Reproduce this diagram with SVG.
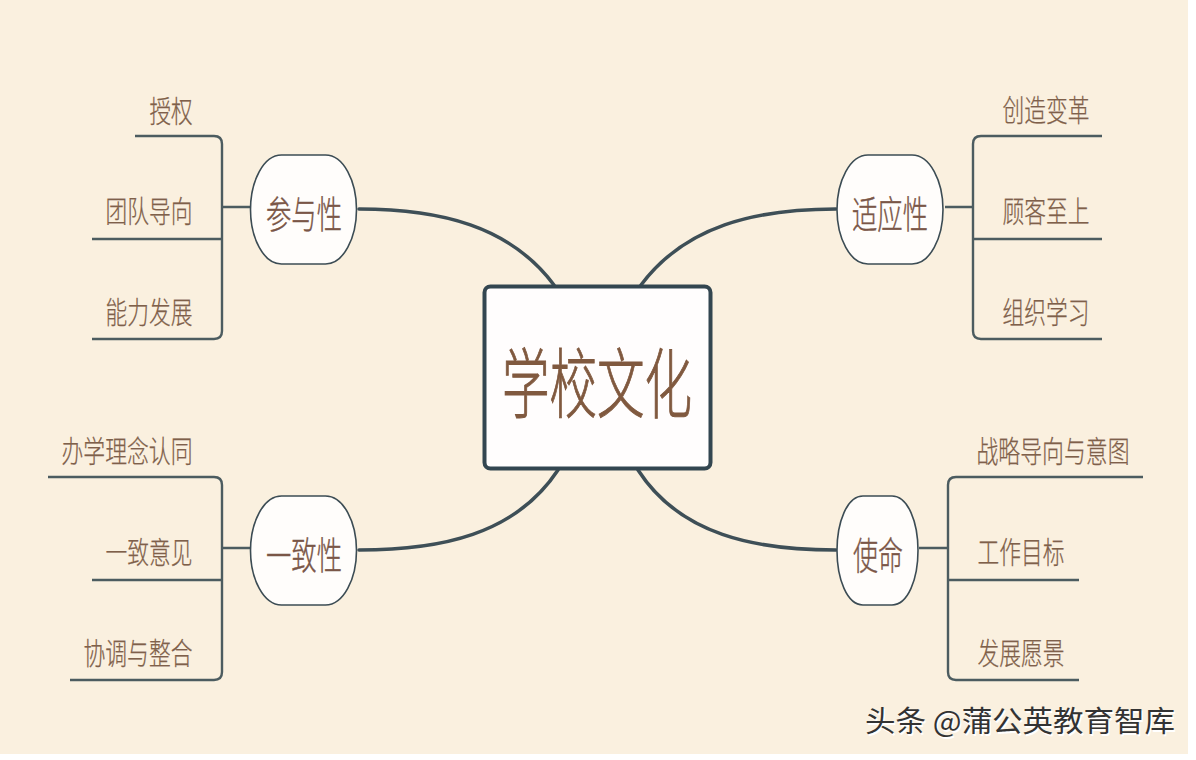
<svg xmlns="http://www.w3.org/2000/svg" width="1196" height="760" viewBox="0 0 1196 760">
<style>
text{font-family:"Noto Sans CJK SC","Liberation Sans",sans-serif;fill:#86664e;text-anchor:middle;font-weight:300}
.leaf{font-size:30px;fill:#7f604a;stroke:#7f604a;stroke-width:0.25}
.topic{font-size:38px;fill:#7a5647;stroke:#7a5647;stroke-width:0.4}
.node{fill:#fffdfb;stroke:#3c4c54;stroke-width:1.6}
.conn{fill:none;stroke:#3e4f57;stroke-width:3.5;stroke-linecap:round}
.br{fill:none;stroke:#4c5c60;stroke-width:2.4}
.wm{font-size:29px;font-weight:400}
</style>
<defs>
<path id="blob" d="M31 0H75C93 0 106 26 106 54.500C106 83 93 109 75 109H31C13 109 0 83 0 54.500C0 26 13 0 31 0Z"/>
<path id="blob2" d="M26 0H55C71 0 81 26 81 54.500C81 83 71 109 55 109H26C10 109 0 83 0 54.500C0 26 10 0 26 0Z"/>
</defs>
<rect width="1196" height="760" fill="#ffffff"/>
<rect width="1188" height="754" fill="#faf0df"/>
<g id="connectors">
<path class="conn" d="M359 209C440 209 510 226 554 285"/>
<path class="conn" d="M836 209C755 209 685 226 641 285"/>
<path class="conn" d="M359 550C440 550 515 535 558 470"/>
<path class="conn" d="M836 550C755 550 680 535 638 470"/>
<path class="br" d="M135 136H214Q222 136 222 144V331Q222 339 214 339H92M92 239H222M222 207H250"/>
<path class="br" d="M1102 136H981Q973 136 973 144V331Q973 339 981 339H1102M973 239H1102M973 207H945"/>
<path class="br" d="M48 477H214Q222 477 222 485V672Q222 680 214 680H70M92 580H222M222 548H250"/>
<path class="br" d="M1143 477H956Q948 477 948 485V672Q948 680 956 680H1079M948 580H1079M948 548H919"/>
</g>
<g id="root"><rect x="484.500" y="286.500" width="226" height="182" rx="6" fill="#fffdfd" stroke="#334650" stroke-width="4"/><text x="597" y="412" font-size="76" textLength="190" lengthAdjust="spacingAndGlyphs" style="fill:#80593f;stroke:#80593f;stroke-width:1">学校文化</text></g>
<g id="n1"><use href="#blob" class="node" x="250.500" y="155"/><text class="topic" x="304" y="228" textLength="76" lengthAdjust="spacingAndGlyphs">参与性</text></g>
<g id="n2"><use href="#blob" class="node" x="837" y="155"/><text class="topic" x="890" y="228" textLength="76" lengthAdjust="spacingAndGlyphs">适应性</text></g>
<g id="n3"><use href="#blob" class="node" x="250.500" y="496"/><text class="topic" x="304" y="569" textLength="76" lengthAdjust="spacingAndGlyphs">一致性</text></g>
<g id="n4"><use href="#blob2" class="node" x="837" y="496"/><text class="topic" x="878" y="569" textLength="50" lengthAdjust="spacingAndGlyphs">使命</text></g>
<g id="l1"><text class="leaf" x="171" y="122" textLength="43" lengthAdjust="spacingAndGlyphs">授权</text></g>
<g id="l2"><text class="leaf" x="149" y="222" textLength="87" lengthAdjust="spacingAndGlyphs">团队导向</text></g>
<g id="l3"><text class="leaf" x="149" y="323" textLength="87" lengthAdjust="spacingAndGlyphs">能力发展</text></g>
<g id="l4"><text class="leaf" x="1046" y="121" textLength="87" lengthAdjust="spacingAndGlyphs">创造变革</text></g>
<g id="l5"><text class="leaf" x="1046" y="222" textLength="87" lengthAdjust="spacingAndGlyphs">顾客至上</text></g>
<g id="l6"><text class="leaf" x="1046" y="323" textLength="87" lengthAdjust="spacingAndGlyphs">组织学习</text></g>
<g id="l7"><text class="leaf" x="127" y="462" textLength="131" lengthAdjust="spacingAndGlyphs">办学理念认同</text></g>
<g id="l8"><text class="leaf" x="149" y="563" textLength="87" lengthAdjust="spacingAndGlyphs">一致意见</text></g>
<g id="l9"><text class="leaf" x="138" y="664" textLength="109" lengthAdjust="spacingAndGlyphs">协调与整合</text></g>
<g id="l10"><text class="leaf" x="1053" y="462" textLength="153" lengthAdjust="spacingAndGlyphs">战略导向与意图</text></g>
<g id="l11"><text class="leaf" x="1021" y="563" textLength="87" lengthAdjust="spacingAndGlyphs">工作目标</text></g>
<g id="l12"><text class="leaf" x="1021" y="664" textLength="87" lengthAdjust="spacingAndGlyphs">发展愿景</text></g>
<g id="watermark"><text class="wm" x="1021.500" y="733.500" textLength="310" lengthAdjust="spacingAndGlyphs" style="fill:#ffffff">头条 @蒲公英教育智库</text><text class="wm" x="1020" y="732" textLength="310" lengthAdjust="spacingAndGlyphs" style="fill:#333333">头条 @蒲公英教育智库</text></g>
</svg>
